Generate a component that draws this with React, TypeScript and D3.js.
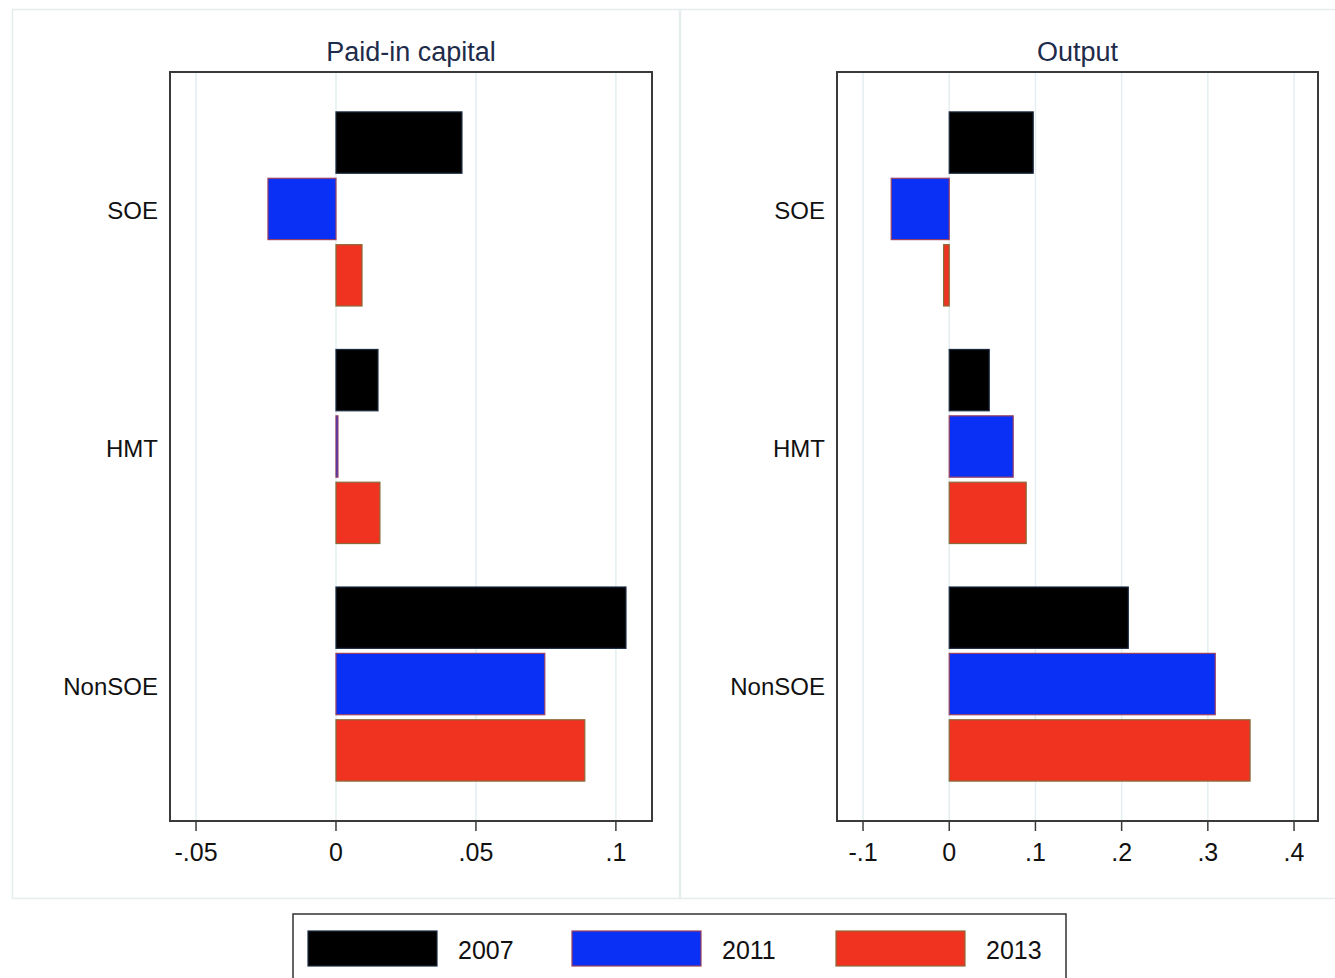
import React from "react";
import * as d3 from "d3";

const categories = ["SOE", "HMT", "NonSOE"];
const years = ["2007", "2011", "2013"];

const capital2007 = [0.045, 0.015, 0.1036];
const capital2011 = [-0.0243, 0.0007, 0.0746];
const capital2013 = [0.0093, 0.0157, 0.0889];

const output2007 = [0.0974, 0.0464, 0.2077];
const output2011 = [-0.0673, 0.0742, 0.3086];
const output2013 = [-0.0065, 0.0893, 0.349];

const capitalTicks = [-0.05, 0, 0.05, 0.1];
const capitalTickLabels = ["-.05", "0", ".05", ".1"];
const outputTicks = [-0.1, 0, 0.1, 0.2, 0.3, 0.4];
const outputTickLabels = ["-.1", "0", ".1", ".2", ".3", ".4"];

const fills = ["#000000", "#0a2ff5", "#ef3320"];
const strokes = ["#1b2a40", "#9a4060", "#8a6a3a"];

const FONT = "'Liberation Sans', Arial, Helvetica, sans-serif";

type PanelProps = {
  title: string;
  series: number[][];
  domain: [number, number];
  x0: number;
  x1: number;
  ticks: number[];
  tickLabels: string[];
  frameX0: number;
  frameX1: number;
};

const plotTop = 72;
const plotBottom = 821;

function Panel({ title, series, domain, x0, x1, ticks, tickLabels, frameX0, frameX1 }: PanelProps) {
  const x = d3.scaleLinear().domain(domain).range([x0, x1]);
  const yGroup = d3
    .scaleBand<string>()
    .domain(categories)
    .range([plotTop, plotBottom])
    .paddingInner(0.183)
    .paddingOuter(0.168);
  const yInner = d3
    .scaleBand<string>()
    .domain(years)
    .range([0, yGroup.bandwidth()])
    .paddingInner(0.076);

  return (
    <g>
      <rect x={frameX0} y={9.5} width={frameX1 - frameX0} height={889} fill="#ffffff" stroke="#e6edef" strokeWidth={1.5} />
      <text x={(x0 + x1) / 2} y={61} textAnchor="middle" fontFamily={FONT} fontSize={27} fill="#1e2b4a">
        {title}
      </text>
      {ticks.map((t, i) => (
        <line key={"g" + i} x1={x(t)} x2={x(t)} y1={plotTop} y2={plotBottom} stroke="#e4eef0" strokeWidth={1.5} />
      ))}
      <rect x={x0} y={plotTop} width={x1 - x0} height={plotBottom - plotTop} fill="none" stroke="#3a3a3a" strokeWidth={2} />
      {categories.map((c, ci) => (
        <g key={c}>
          {years.map((yr, si) => {
            const v = series[si][ci];
            const xa = x(Math.min(0, v));
            const xb = x(Math.max(0, v));
            return (
              <rect
                key={yr}
                x={xa}
                y={(yGroup(c) as number) + (yInner(yr) as number)}
                width={Math.max(1.5, xb - xa)}
                height={yInner.bandwidth()}
                fill={fills[si]}
                stroke={strokes[si]}
                strokeWidth={1.2}
              />
            );
          })}
          <text
            x={x0 - 12}
            y={(yGroup(c) as number) + yGroup.bandwidth() / 2 + 2}
            textAnchor="end"
            dominantBaseline="central"
            fontFamily={FONT}
            fontSize={24}
            fill="#111"
          >
            {c}
          </text>
        </g>
      ))}
      {ticks.map((t, i) => (
        <g key={"t" + i}>
          <line x1={x(t)} x2={x(t)} y1={plotBottom} y2={plotBottom + 10} stroke="#3a3a3a" strokeWidth={1.5} />
          <text x={x(t)} y={861} textAnchor="middle" fontFamily={FONT} fontSize={25} fill="#111">
            {tickLabels[i]}
          </text>
        </g>
      ))}
    </g>
  );
}

export default function App() {
  const legendStep = 264;
  return (
    <div style={{ position: "absolute", left: 0, top: 0 }}>
      <svg width={1335} height={978} style={{ display: "block", background: "#fff" }}>
        <Panel
          title="Paid-in capital"
          series={[capital2007, capital2011, capital2013]}
          domain={[-0.0593, 0.1129]}
          x0={170}
          x1={652}
          ticks={capitalTicks}
          tickLabels={capitalTickLabels}
          frameX0={12.5}
          frameX1={679.5}
        />
        <Panel
          title="Output"
          series={[output2007, output2011, output2013]}
          domain={[-0.1302, 0.4278]}
          x0={837}
          x1={1318}
          ticks={outputTicks}
          tickLabels={outputTickLabels}
          frameX0={680.5}
          frameX1={1345}
        />
        <rect x={293} y={914} width={773} height={80} fill="#fff" stroke="#333" strokeWidth={1.5} />
        {years.map((yr, i) => (
          <g key={yr} transform={`translate(${308 + i * legendStep},0)`}>
            <rect x={0} y={931} width={129} height={35} fill={fills[i]} stroke={strokes[i]} strokeWidth={1.2} />
            <text x={150} y={950} dominantBaseline="central" fontFamily={FONT} fontSize={25} fill="#111">
              {yr}
            </text>
          </g>
        ))}
      </svg>
    </div>
  );
}
